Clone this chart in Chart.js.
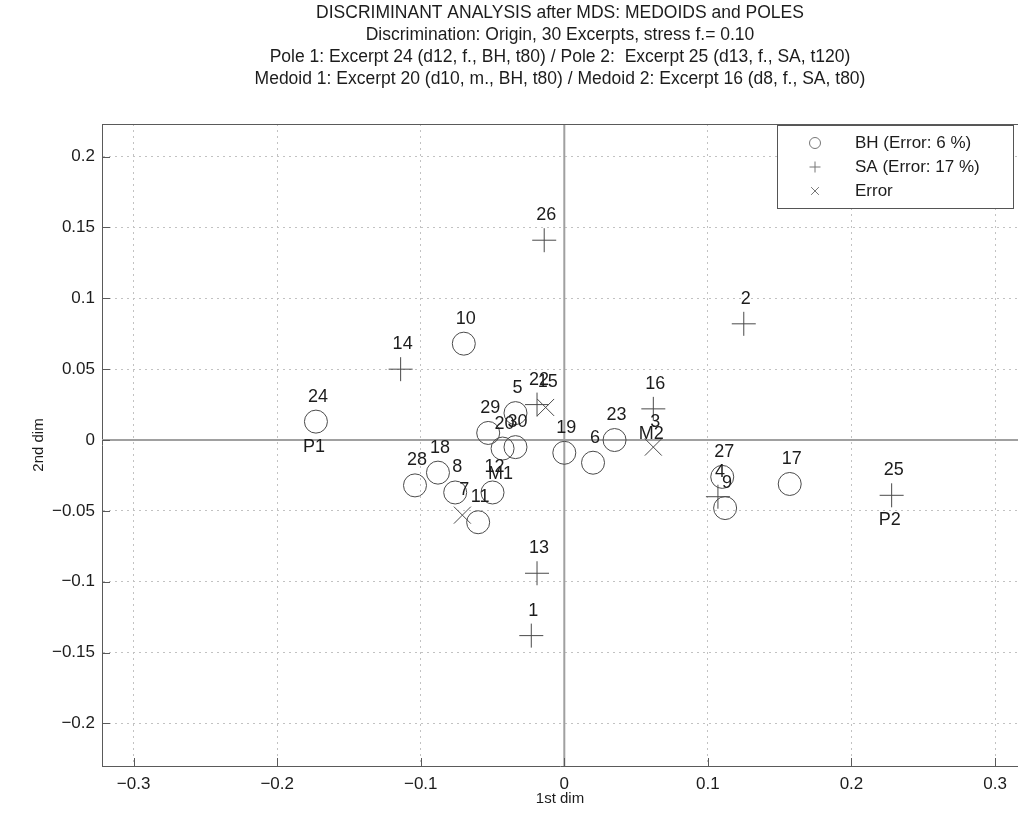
<!DOCTYPE html>
<html>
<head>
<meta charset="utf-8">
<title>Discriminant analysis after MDS</title>
<script src="https://cdn.jsdelivr.net/npm/chart.js@4/dist/chart.umd.min.js"></script>
<style>
  html, body { margin: 0; padding: 0; background: #fff; overflow: hidden; }
  /* the plot box runs off the right edge of the page */
  #frame { width: 1018px; height: 816px; overflow: hidden; }
  canvas { display: block; }
</style>
</head>
<body>
<div id="frame"><canvas id="mdsChart" width="1031" height="816"></canvas></div>
<script>
// excerpt coordinates in the first two MDS dimensions
const bhIds = ['24', '10', '5', '29', '20', '30', '18', '28', '8', '12', '11', '19', '6', '23', '27', '9', '17'];
const bhX = [-0.173, -0.070, -0.034, -0.053, -0.043, -0.034, -0.088, -0.104, -0.076, -0.050, -0.060, 0.000, 0.020, 0.035, 0.110, 0.112, 0.157];
const bhY = [0.013, 0.068, 0.019, 0.005, -0.006, -0.005, -0.023, -0.032, -0.037, -0.037, -0.058, -0.009, -0.016, 0.000, -0.026, -0.048, -0.031];

const saIds = ['26', '14', '2', '22', '16', '4', '25', '13', '1'];
const saX = [-0.014, -0.114, 0.125, -0.019, 0.062, 0.107, 0.228, -0.019, -0.023];
const saY = [0.141, 0.050, 0.082, 0.025, 0.022, -0.040, -0.039, -0.094, -0.138];

// misclassified excerpts
const errIds = ['7', '15', '3'];
const errX = [-0.071, -0.013, 0.062];
const errY = [-0.053, 0.023, -0.005];

// poles and medoids, written under their excerpt
const tagIds = ['24', '25', '20', '16'];
const tagNames = ['P1', 'P2', 'M1', 'M2'];

const xTicks = [-0.3, -0.2, -0.1, 0, 0.1, 0.2, 0.3];
const yTicks = [-0.2, -0.15, -0.1, -0.05, 0, 0.05, 0.1, 0.15, 0.2];
const xMin = -0.322, xMax = 0.316;
const yMin = -0.23, yMax = 0.223;

const titleLines = [
  'DISCRIMINANT ANALYSIS after MDS: MEDOIDS and POLES',
  'Discrimination: Origin, 30 Excerpts, stress f.= 0.10',
  'Pole 1: Excerpt 24 (d12, f., BH, t80) / Pole 2:  Excerpt 25 (d13, f., SA, t120)',
  'Medoid 1: Excerpt 20 (d10, m., BH, t80) / Medoid 2: Excerpt 16 (d8, f., SA, t80)'
];
const legendLabels = ['BH (Error: 6 %)', 'SA (Error: 17 %)', 'Error'];

const FONT = '"Liberation Sans", Arial, Helvetica, sans-serif';
const INK = '#1c1c1c';
const MARK = '#4a4a4a';
const PAGE_W = 1018;

Chart.defaults.font.family = FONT;
Chart.defaults.color = INK;

function toPoints(xs, ys, ids) {
  return xs.map((x, i) => ({ x: x, y: ys[i], id: ids[i] }));
}

function fmtTick(v) {
  const s = String(Math.round(v * 100) / 100);
  return s.replace('-', '\u2212');
}

// zero lines, inward tick marks and the top frame
const axesDecor = {
  id: 'axesDecor',
  beforeDatasetsDraw(chart) {
    const { ctx, chartArea: ca, scales: { x, y } } = chart;
    ctx.save();
    ctx.strokeStyle = '#a0a0a0';
    ctx.lineWidth = 2;
    ctx.beginPath();
    const x0 = x.getPixelForValue(0);
    const y0 = y.getPixelForValue(0);
    ctx.moveTo(x0, ca.top);
    ctx.lineTo(x0, ca.bottom);
    ctx.moveTo(ca.left, y0);
    ctx.lineTo(ca.right, y0);
    ctx.stroke();

    ctx.strokeStyle = '#5a5a5a';
    ctx.lineWidth = 1;
    ctx.beginPath();
    xTicks.forEach(v => {
      const px = Math.round(x.getPixelForValue(v)) + 0.5;
      ctx.moveTo(px, ca.bottom);
      ctx.lineTo(px, ca.bottom - 8);
    });
    yTicks.forEach(v => {
      const py = Math.round(y.getPixelForValue(v)) + 0.5;
      ctx.moveTo(ca.left, py);
      ctx.lineTo(ca.left + 8, py);
    });
    ctx.moveTo(ca.left, ca.top + 0.5);
    ctx.lineTo(ca.right, ca.top + 0.5);
    ctx.stroke();
    ctx.restore();
  }
};

// excerpt numbers above each mark, pole/medoid names below
const pointLabels = {
  id: 'pointLabels',
  afterDatasetsDraw(chart) {
    const { ctx } = chart;
    ctx.save();
    ctx.font = '18px ' + FONT;
    ctx.fillStyle = INK;
    ctx.textAlign = 'center';
    ctx.textBaseline = 'middle';
    chart.data.datasets.forEach((ds, di) => {
      const meta = chart.getDatasetMeta(di);
      ds.data.forEach((p, i) => {
        const el = meta.data[i];
        ctx.fillText(p.id, el.x + 2, el.y - 25);
        const t = tagIds.indexOf(p.id);
        if (t >= 0) ctx.fillText(tagNames[t], el.x - 2, el.y + 25);
      });
    });
    ctx.restore();
  }
};

// boxed legend in the upper right corner of the visible plot
const boxLegend = {
  id: 'boxLegend',
  afterDraw(chart) {
    const { ctx, chartArea: ca } = chart;
    const w = 236, h = 83;
    const right = Math.min(ca.right, PAGE_W);
    const bx = right - w - 5, by = ca.top + 1;
    const styles = ['circle', 'cross', 'crossRot'];
    ctx.save();
    ctx.fillStyle = '#fff';
    ctx.fillRect(bx, by, w, h);
    ctx.strokeStyle = '#555';
    ctx.lineWidth = 1;
    ctx.strokeRect(bx + 0.5, by + 0.5, w, h);
    styles.forEach((s, i) => {
      const cy = by + 18 + i * 24;
      ctx.strokeStyle = '#777';
      ctx.lineWidth = 1;
      Chart.helpers.drawPoint(ctx, { pointStyle: s, radius: 5.5, borderWidth: 1, rotation: 0 }, bx + 38, cy);
      ctx.font = '17px ' + FONT;
      ctx.fillStyle = INK;
      ctx.textAlign = 'left';
      ctx.textBaseline = 'middle';
      ctx.fillText(legendLabels[i], bx + 78, cy);
    });
    ctx.restore();
  }
};

const data = {
  datasets: [
    {
      label: legendLabels[0],
      data: toPoints(bhX, bhY, bhIds),
      pointStyle: 'circle',
      pointRadius: 11.5,
      borderColor: MARK,
      backgroundColor: 'rgba(0,0,0,0)',
      borderWidth: 1
    },
    {
      label: legendLabels[1],
      data: toPoints(saX, saY, saIds),
      pointStyle: 'cross',
      pointRadius: 12,
      borderColor: MARK,
      borderWidth: 1
    },
    {
      label: legendLabels[2],
      data: toPoints(errX, errY, errIds),
      pointStyle: 'crossRot',
      pointRadius: 12,
      borderColor: MARK,
      borderWidth: 1
    }
  ]
};

const config = {
  type: 'scatter',
  data: data,
  plugins: [axesDecor, pointLabels, boxLegend],
  options: {
    responsive: false,
    animation: false,
    events: [],
    layout: { padding: 0 },
    plugins: {
      legend: { display: false },
      tooltip: { enabled: false },
      title: {
        display: true,
        fullSize: false,
        text: titleLines,
        color: INK,
        font: { size: 17.5, weight: 'normal', lineHeight: '22px' },
        padding: { top: 2, bottom: 34 }
      }
    },
    scales: {
      x: {
        type: 'linear',
        min: xMin,
        max: xMax,
        afterBuildTicks: s => { s.ticks = xTicks.map(v => ({ value: v })); },
        afterFit: s => { s.height = 50; },
        ticks: { callback: fmtTick, font: { size: 17 }, color: INK, padding: 8, maxRotation: 0, autoSkip: false },
        grid: { color: '#c2c2c2', lineWidth: 1, drawTicks: false },
        border: { color: '#5a5a5a', width: 1, dash: [2, 4] },
        title: { display: true, text: '1st dim', font: { size: 15 }, color: INK, padding: { top: 0, bottom: 8 } }
      },
      y: {
        type: 'linear',
        min: yMin,
        max: yMax,
        afterBuildTicks: s => { s.ticks = yTicks.map(v => ({ value: v })); },
        afterFit: s => { s.width = 102; },
        ticks: { callback: fmtTick, font: { size: 17 }, color: INK, padding: 7, autoSkip: false },
        grid: { color: '#c2c2c2', lineWidth: 1, drawTicks: false },
        border: { color: '#5a5a5a', width: 1, dash: [2, 4] },
        title: { display: true, text: '2nd dim', font: { size: 15 }, color: INK, padding: { top: 30, bottom: 0 } }
      }
    }
  }
};

const mdsChart = new Chart(document.getElementById('mdsChart'), config);
</script>
</body>
</html>
